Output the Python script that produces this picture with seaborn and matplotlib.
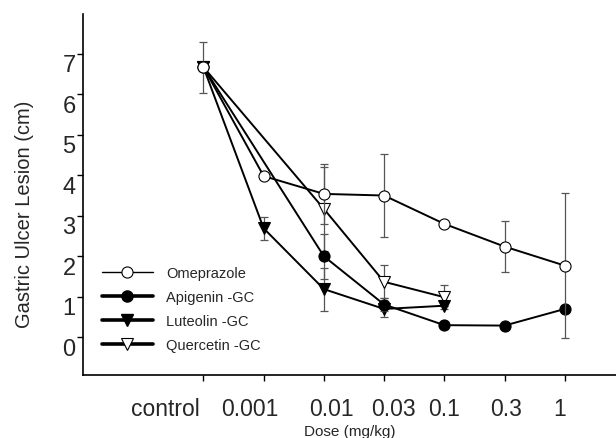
import numpy as np
import pandas as pd
import matplotlib
matplotlib.use("Agg")
import matplotlib.pyplot as plt
from matplotlib.lines import Line2D
from matplotlib.transforms import ScaledTranslation
import seaborn as sns

categories = ["control", "0.001", "0.01", "0.03", "0.1", "0.3", "1"]

omep_x = ["control", "0.001", "0.01", "0.03", "0.1", "0.3", "1"]
omep_y = [6.67, 3.98, 3.54, 3.50, 2.80, 2.24, 1.77]
omep_e = [0.63, 0.0, 0.74, 1.03, 0.0, 0.62, 1.78]

api_x = ["control", "0.01", "0.03", "0.1", "0.3", "1"]
api_y = [6.67, 2.00, 0.81, 0.30, 0.29, 0.70]
api_e = [0.0, 0.55, 0.15, 0.0, 0.0, 0.0]

lut_x = ["control", "0.001", "0.01", "0.03", "0.1"]
lut_y = [6.67, 2.69, 1.19, 0.70, 0.78]
lut_e = [0.0, 0.29, 0.53, 0.20, 0.0]

que_x = ["control", "0.01", "0.03", "0.1"]
que_y = [6.67, 3.17, 1.37, 0.99]
que_e = [0.0, 1.03, 0.41, 0.30]

# horizontal nudges (pixels) of the x tick labels, as in the original figure
xlabel_nudge_px = [-38, -14, 8, 9, 0, 1, -5]

sns.set_style("ticks")
plt.rcParams["font.family"] = ["Liberation Sans", "DejaVu Sans"]

fig = plt.figure(figsize=(6.16, 4.39), dpi=100)
ax = fig.add_axes([0.1347, 0.1435, 0.8653, 0.8223])

series = [
    ("Quercetin -GC", que_x, que_y, que_e, "v", "white"),
    ("Luteolin -GC", lut_x, lut_y, lut_e, "v", "black"),
    ("Apigenin -GC", api_x, api_y, api_e, "o", "black"),
    ("Omeprazole", omep_x, omep_y, omep_e, "o", "white"),
]

for i, (name, xs, ys, es, mk, fc) in enumerate(series):
    pos = [categories.index(c) for c in xs]
    df = pd.DataFrame({"pos": pos, "y": ys, "e": es})
    z = 3 + i
    ax.errorbar(df["pos"], df["y"], yerr=df["e"], fmt="none",
                ecolor="#555555", elinewidth=0.9, capsize=3,
                capthick=0.9, zorder=z)
    sns.lineplot(data=df, x="pos", y="y", ax=ax, color="black",
                 linewidth=1.4, marker=mk, markersize=8,
                 markerfacecolor=fc, markeredgecolor="black",
                 markeredgewidth=0.8, zorder=z + 0.5, legend=False,
                 sort=False, estimator=None)

ax.set_xlim(-2.0, 6.85)
ax.set_ylim(-0.93, 7.98)
ax.set_xticks(range(len(categories)))
ax.set_xticklabels(categories, fontsize=16.5)
ax.set_yticks(range(0, 8))
ax.set_yticklabels([str(v) for v in range(0, 8)], fontsize=17)
ax.tick_params(axis="x", length=4.5, width=1, pad=11.5, color="black")
ax.tick_params(axis="y", length=4.5, width=1, pad=0.8, color="black")

for lab in ax.get_yticklabels():
    lab.set_transform(lab.get_transform() +
                      ScaledTranslation(0, -9 / 100, fig.dpi_scale_trans))
for lab, dx in zip(ax.get_xticklabels(), xlabel_nudge_px):
    lab.set_transform(lab.get_transform() +
                      ScaledTranslation(dx / 100, 0, fig.dpi_scale_trans))

ax.set_xlabel("Dose (mg/kg)", fontsize=11, labelpad=3)
ax.set_ylabel("Gastric Ulcer Lesion (cm)", fontsize=14.5)
ax.yaxis.set_label_coords(-0.092, 0.447)
for s in ["top", "right"]:
    ax.spines[s].set_visible(False)
for s in ["left", "bottom"]:
    ax.spines[s].set_linewidth(1.2)
    ax.spines[s].set_color("black")

handles = [
    Line2D([], [], color="black", lw=1.0, marker="o", markersize=8,
           markerfacecolor="white", markeredgecolor="black", markeredgewidth=0.8),
    Line2D([], [], color="black", lw=2.6, marker="o", markersize=8,
           markerfacecolor="black", markeredgecolor="black"),
    Line2D([], [], color="black", lw=2.6, marker="v", markersize=8,
           markerfacecolor="black", markeredgecolor="black"),
    Line2D([], [], color="black", lw=2.6, marker="v", markersize=8,
           markerfacecolor="white", markeredgecolor="black", markeredgewidth=0.8),
]
labels = ["Omeprazole", "Apigenin -GC", "Luteolin -GC", "Quercetin -GC"]
ax.legend(handles, labels, loc="upper left", bbox_to_anchor=(0.0245, 0.318),
          frameon=False, fontsize=10.5, handlelength=3.5, labelspacing=0.68,
          handletextpad=0.9, borderaxespad=0)

fig.savefig("out.png", dpi=100)
